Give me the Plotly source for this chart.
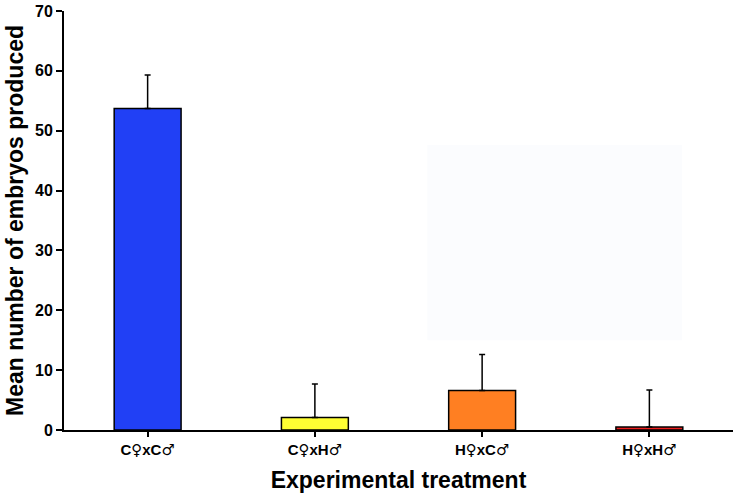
import plotly.graph_objects as go

categories = ["C♀xC♂", "C♀xH♂", "H♀xC♂", "H♀xH♂"]
means = [53.7, 2.1, 6.6, 0.5]
errors = [5.6, 5.6, 6.0, 6.2]
colors = ["#2140f5", "#ffff33", "#ff7f22", "#ee1f1f"]
y_ticks = [0, 10, 20, 30, 40, 50, 60, 70]

def styled(label):
    out = ""
    for ch in label:
        if ch in "♀♂":
            out += '<span style="font-family:DejaVu Sans;font-weight:normal">' + ch + "</span>"
        else:
            out += ch
    return out

tick_text = [styled(c) for c in categories]

fig = go.Figure()
fig.add_trace(go.Bar(
    x=categories, y=means, width=0.4,
    marker=dict(color=colors, line=dict(color="black", width=1.5)),
    error_y=dict(type="data", array=errors, arrayminus=[0]*len(errors),
                 symmetric=False, color="black", thickness=1.5, width=3),
))

fig.add_shape(type="rect", xref="paper", yref="y", x0=0.543, x1=0.924, y0=15, y1=47.6,
              fillcolor="#fbfcfe", line=dict(width=0), layer="below")

fig.update_layout(
    width=736, height=500,
    margin=dict(l=64, r=3, t=11, b=70, autoexpand=False),
    plot_bgcolor="white", paper_bgcolor="white",
    showlegend=False,
    font=dict(family="Liberation Sans, Arial, sans-serif", color="black"),
)
fig.update_xaxes(
    range=[-0.5, 3.5], showline=True, linecolor="black", linewidth=2,
    tickmode="array", tickvals=categories, ticktext=tick_text,
    ticks="outside", ticklen=5, tickwidth=1.5, tickcolor="black",
    tickfont=dict(size=15, family="Liberation Sans, Arial", weight="bold"),
    title=dict(text="<b>Experimental treatment</b>", font=dict(size=23), standoff=14),
    showgrid=False, zeroline=False, automargin=False,
)
fig.update_yaxes(
    range=[0, 70], tickvals=y_ticks, showline=True, linecolor="black", linewidth=2,
    ticks="outside", ticklen=6, tickwidth=1.5, tickcolor="black",
    tickfont=dict(size=16, family="Liberation Sans, Arial", weight="bold"),
    title=dict(text="<b>Mean number of embryos produced</b>", font=dict(size=23), standoff=5),
    showgrid=False, zeroline=False, automargin=False,
)

fig.write_html("out.html", config={"displayModeBar": False},
               post_script="document.body.style.margin='0';")
